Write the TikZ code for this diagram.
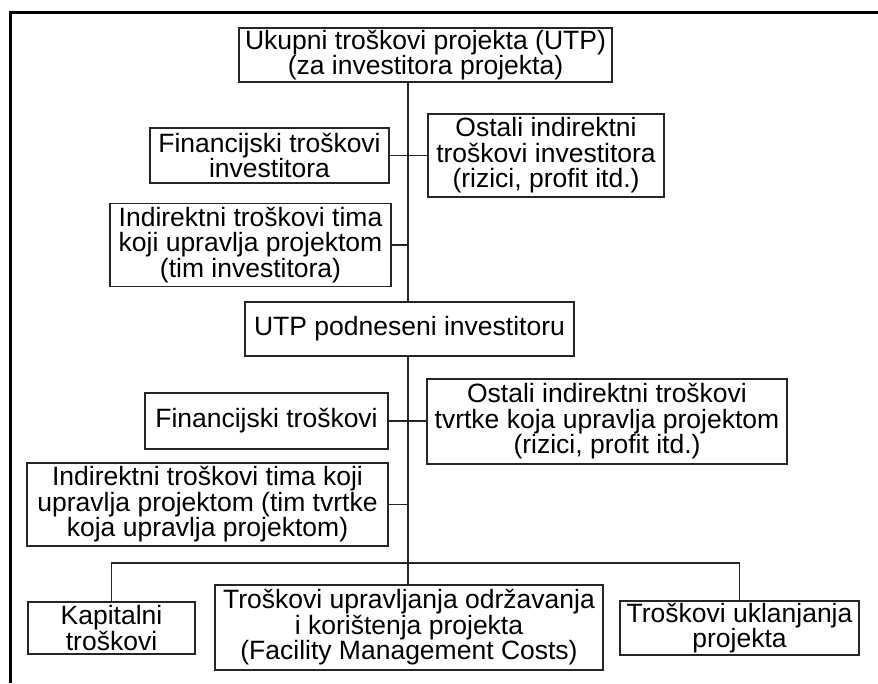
\documentclass[tikz,border=0pt]{standalone}
\usepackage{fontspec}
\setmainfont{Liberation Sans}
\begin{document}
\begin{tikzpicture}[x=1pt,y=-1pt,
  box/.style={draw=black!85, line width=1.4pt, inner sep=0pt, align=center,
              font=\fontsize{26.5}{25.5}\selectfont},
  link/.style={line width=1.4pt, black!85}]
\useasboundingbox (0,0) rectangle (878,683);

% outer frame (top and left edges)
\draw[line width=2.6pt] (10.5,683) -- (10.5,12.5) -- (878,12.5);

% cost breakdown boxes
\node[box, minimum width=373pt, minimum height=54pt] (top) at (425.5,55)
  {Ukupni troškovi projekta (UTP)\\(za investitora projekta)};
\node[box, minimum width=239pt, minimum height=55pt] (fininv) at (269.5,155.5)
  {Financijski troškovi\\investitora};
\node[box, minimum width=236pt, minimum height=83pt] (ostinv) at (546,155.5)
  {Ostali indirektni\\troškovi investitora\\(rizici, profit itd.)};
\node[box, minimum width=281pt, minimum height=83pt] (timinv) at (250.5,245)
  {Indirektni troškovi tima\\koji upravlja projektom\\(tim investitora)};
\node[box, minimum width=329pt, minimum height=54pt] (utp) at (409.5,329)
  {UTP podneseni investitoru};
\node[box, minimum width=360pt, minimum height=85pt] (ostfirm) at (607,421.5)
  {Ostali indirektni troškovi\\tvrtke koja upravlja projektom\\(rizici, profit itd.)};
\node[box, minimum width=243pt, minimum height=56pt] (finfirm) at (266.5,421)
  {Financijski troškovi};
\node[box, minimum width=361pt, minimum height=83pt] (timfirm) at (207.5,504.5)
  {Indirektni troškovi tima koji\\upravlja projektom (tim tvrtke\\koja upravlja projektom)};
\node[box, minimum width=167pt, minimum height=52pt] (kap) at (111.5,628)
  {Kapitalni\\troškovi};
\node[box, minimum width=388pt, minimum height=85pt] (fm) at (409,627.5)
  {Troškovi upravljanja održavanja\\i korištenja projekta\\(Facility Management Costs)};
\node[box, minimum width=239pt, minimum height=54pt] (ukl) at (739.5,628)
  {Troškovi uklanjanja\\projekta};

% trunk and distribution bus
\coordinate (trunk) at (408,0);
\coordinate (bus) at (408,563);

\draw[link] (top.south -| trunk) -- (utp.north -| trunk);
\draw[link] (utp.south -| trunk) -- (fm.north -| trunk);

\draw[link] (fininv.east) -- (ostinv.west |- fininv.east);
\draw[link] (timinv.east) -- (timinv.east -| trunk);
\draw[link] (finfirm.east) -- (finfirm.east -| ostfirm.west);
\draw[link] (timfirm.east) -- (timfirm.east -| trunk);

\draw[link] (kap.north) |- (bus) -| (ukl.north);
\end{tikzpicture}
\end{document}
